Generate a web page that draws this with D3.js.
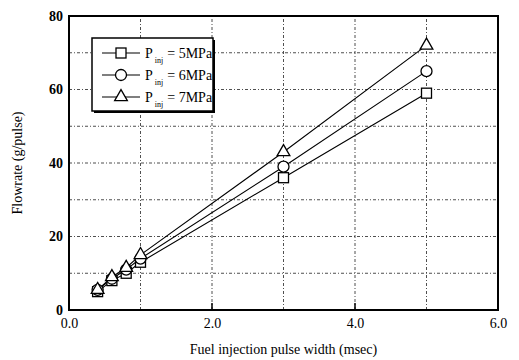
<!DOCTYPE html>
<html>
<head>
<meta charset="utf-8">
<script src="https://cdn.jsdelivr.net/npm/d3@7"></script>
<style>
  body { margin: 0; background: #fff; }
  text { font-family: "Liberation Serif", "DejaVu Serif", serif; }
</style>
</head>
<body>
<svg id="chart" width="519" height="360"></svg>
<script>
// pulse width (msec)
const pulse = [0.4, 0.6, 0.8, 1.0, 3.0, 5.0];
// flowrate per series
const p5 = [5.0, 8.0, 10.0, 13.0, 36.0, 59.0];
const p6 = [5.5, 8.5, 11.0, 14.0, 39.0, 65.0];
const p7 = [5.5, 9.0, 11.5, 15.0, 43.0, 72.0];
const seriesNames = ["5MPa", "6MPa", "7MPa"];
const xTicks = [0, 2, 4, 6];
const yTicks = [0, 20, 40, 60, 80];

const margin = { top: 16, right: 21, bottom: 50, left: 69 };
const width = 519, height = 360;

const svg = d3.select("#chart");

const x = d3.scaleLinear().domain([0, 6]).range([margin.left, width - margin.right]);
const y = d3.scaleLinear().domain([0, 80]).range([height - margin.bottom, margin.top]);

// dash-dot grid
const grid = svg.append("g")
  .attr("stroke", "#222")
  .attr("stroke-width", 0.8)
  .attr("stroke-dasharray", "3,2,1,2");
grid.selectAll(".gy").data(d3.range(10, 80, 10)).join("line")
  .attr("x1", x(0)).attr("x2", x(6))
  .attr("y1", d => y(d)).attr("y2", d => y(d));
grid.selectAll(".gx").data(d3.range(1, 6, 1)).join("line")
  .attr("y1", y(0)).attr("y2", y(80))
  .attr("x1", d => x(d)).attr("x2", d => x(d));

// axes
svg.append("g")
  .attr("transform", `translate(0,${y(0)})`)
  .call(d3.axisBottom(x).tickValues(xTicks).tickFormat(d3.format(".1f")).tickSize(0).tickPadding(8))
  .call(g => g.select(".domain").remove())
  .call(g => g.selectAll("text").attr("font-size", 14).attr("fill", "#000"));

svg.append("g")
  .attr("transform", `translate(${x(0)},0)`)
  .call(d3.axisLeft(y).tickValues(yTicks).tickSize(0).tickPadding(6))
  .call(g => g.select(".domain").remove())
  .call(g => g.selectAll("text").attr("font-size", 14).attr("font-weight", "bold").attr("fill", "#000"));

// inner ticks at 2 and 4
svg.append("g").selectAll("line").data([2, 4]).join("line")
  .attr("x1", d => x(d)).attr("x2", d => x(d))
  .attr("y1", y(0)).attr("y2", y(0) - 7)
  .attr("stroke", "#000").attr("stroke-width", 1.5);

// frame
svg.append("rect")
  .attr("x", x(0)).attr("y", y(80))
  .attr("width", x(6) - x(0)).attr("height", y(0) - y(80))
  .attr("fill", "none").attr("stroke", "#000").attr("stroke-width", 2);

const series = [p5, p6, p7];
const line = d3.line().x((d, i) => x(pulse[i])).y(d => y(d));

series.forEach(s => {
  svg.append("path")
    .attr("d", line(s))
    .attr("fill", "none").attr("stroke", "#000").attr("stroke-width", 1.1);
});

function marker(g, k) {
  if (k === 0) {
    g.append("rect").attr("x", -5).attr("y", -5).attr("width", 10).attr("height", 10);
  } else if (k === 1) {
    g.append("circle").attr("r", 5.5);
  } else {
    g.append("path").attr("d", d3.symbol(d3.symbolTriangle, 70)());
  }
  g.selectAll("*").attr("fill", "#fff").attr("stroke", "#000").attr("stroke-width", 1.3);
}

series.forEach((s, k) => {
  s.forEach((v, i) => {
    const g = svg.append("g").attr("transform", `translate(${x(pulse[i])},${y(v)})`);
    marker(g, k);
  });
});

// legend
const lg = svg.append("g").attr("transform", "translate(92,38)");
lg.append("rect").attr("x", 2).attr("y", 2).attr("width", 121).attr("height", 73).attr("fill", "#000");
lg.append("rect").attr("width", 121).attr("height", 73).attr("fill", "#fff").attr("stroke", "#000").attr("stroke-width", 1.5);
seriesNames.forEach((nm, k) => {
  const yy = 15 + k * 22;
  lg.append("line").attr("x1", 10).attr("x2", 48).attr("y1", yy).attr("y2", yy)
    .attr("stroke", "#000").attr("stroke-width", 1.1);
  const m = lg.append("g").attr("transform", `translate(29,${yy})`);
  marker(m, k);
  const t = lg.append("text").attr("x", 53).attr("y", yy + 5).attr("font-size", 14).attr("fill", "#000");
  t.append("tspan").text("P");
  t.append("tspan").attr("font-size", 8).attr("dy", 5).attr("dx", 2).text("inj");
  t.append("tspan").attr("dy", -5).attr("dx", 4).text("= " + nm);
});

// axis titles
svg.append("text")
  .attr("x", (x(0) + x(6)) / 2).attr("y", 354)
  .attr("text-anchor", "middle").attr("font-size", 14).text("Fuel injection pulse width (msec)");
svg.append("text")
  .attr("transform", `translate(22,${(y(0) + y(80)) / 2}) rotate(-90)`)
  .attr("text-anchor", "middle").attr("font-size", 14).text("Flowrate (g/pulse)");
</script>
</body>
</html>
